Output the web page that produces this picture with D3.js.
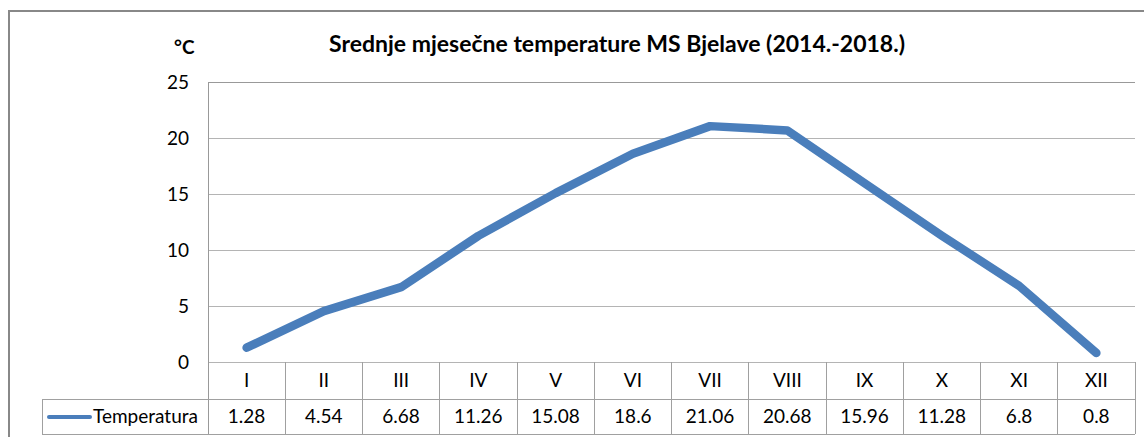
<!DOCTYPE html>
<html>
<head>
<meta charset="utf-8">
<script src="https://cdn.jsdelivr.net/npm/d3@7"></script>
<style>
  body { margin: 0; background: #fff; }
  text { font-family: Lato, "Open Sans", sans-serif; fill: #000; }
</style>
</head>
<body>
<svg id="chart" width="1144" height="437"></svg>
<script>
// chart data
var months = ["I", "II", "III", "IV", "V", "VI", "VII", "VIII", "IX", "X", "XI", "XII"];
var temps = [1.28, 4.54, 6.68, 11.26, 15.08, 18.6, 21.06, 20.68, 15.96, 11.28, 6.8, 0.8];
var yTicks = [0, 5, 10, 15, 20, 25];
var seriesName = "Temperatura";
var title = "Srednje mjesečne temperature MS Bjelave (2014.-2018.)";

var svg = d3.select("#chart");
var plotLeft = 208, plotRight = 1135, plotTop = 82, zeroY = 362;
var row1 = 399, row2 = 434, legendLeft = 42;
var gridColor = "#b4b4b4", tableColor = "#a0a0a0";
var fontSize = 19;

// outer frame of the chart object (runs off the right and bottom edge)
svg.append("path")
    .attr("d", "M9,440 V11 H1150")
    .attr("fill", "none")
    .attr("stroke", "#888")
    .attr("stroke-width", 2);

var x = d3.scaleBand().domain(months).range([plotLeft, plotRight]);
var y = d3.scaleLinear().domain([0, 25]).range([zeroY, plotTop]);

// gridlines
svg.append("g").selectAll("line")
    .data(yTicks)
    .join("line")
    .attr("x1", plotLeft).attr("x2", plotRight)
    .attr("y1", function (d) { return Math.round(y(d)) + 0.5; })
    .attr("y2", function (d) { return Math.round(y(d)) + 0.5; })
    .attr("stroke", function (d) { return d === 25 ? "#999" : gridColor; });

// y tick labels
svg.append("g").selectAll("text")
    .data(yTicks)
    .join("text")
    .attr("x", 189)
    .attr("y", function (d) { return y(d); })
    .attr("dy", "0.35em")
    .attr("text-anchor", "end")
    .attr("font-size", fontSize)
    .text(function (d) { return d; });

svg.append("text")
    .attr("x", 174).attr("y", 54)
    .attr("font-size", fontSize)
    .attr("font-weight", "bold")
    .text("°C");

svg.append("text")
    .attr("x", 617).attr("y", 52)
    .attr("text-anchor", "middle")
    .attr("font-size", 23)
    .attr("font-weight", "bold")
    .text(title);

// data table
var t = svg.append("g").attr("stroke", tableColor).attr("shape-rendering", "crispEdges");
t.append("line").attr("x1", plotLeft).attr("x2", plotLeft).attr("y1", plotTop).attr("y2", row2).attr("stroke", "#999");
t.append("line").attr("x1", legendLeft).attr("x2", plotRight).attr("y1", row1).attr("y2", row1);
t.append("line").attr("x1", legendLeft).attr("x2", plotRight).attr("y1", row2).attr("y2", row2);
t.append("line").attr("x1", legendLeft).attr("x2", legendLeft).attr("y1", row1).attr("y2", row2);
t.selectAll("line.col")
    .data(months)
    .join("line")
    .attr("class", "col")
    .attr("x1", function (d) { return x(d) + x.bandwidth(); })
    .attr("x2", function (d) { return x(d) + x.bandwidth(); })
    .attr("y1", zeroY).attr("y2", row2);

svg.append("g").selectAll("text")
    .data(months)
    .join("text")
    .attr("x", function (d) { return x(d) + x.bandwidth() / 2; })
    .attr("y", (zeroY + row1) / 2)
    .attr("dy", "0.35em")
    .attr("text-anchor", "middle")
    .attr("font-size", fontSize)
    .text(function (d) { return d; });

svg.append("g").selectAll("text")
    .data(temps)
    .join("text")
    .attr("x", function (d, i) { return x(months[i]) + x.bandwidth() / 2; })
    .attr("y", (row1 + row2) / 2)
    .attr("dy", "0.35em")
    .attr("text-anchor", "middle")
    .attr("font-size", fontSize)
    .text(function (d) { return d; });

// legend key in the table
svg.append("line")
    .attr("x1", 49).attr("x2", 90)
    .attr("y1", 417).attr("y2", 417)
    .attr("stroke", "#4a7ebb").attr("stroke-width", 4).attr("stroke-linecap", "round");
svg.append("text")
    .attr("x", 93).attr("y", 416)
    .attr("dy", "0.35em")
    .attr("font-size", fontSize)
    .text(seriesName);

// the series line
var line = d3.line()
    .x(function (d, i) { return x(months[i]) + x.bandwidth() / 2; })
    .y(function (d) { return y(d); });

svg.append("path")
    .datum(temps)
    .attr("d", line)
    .attr("fill", "none")
    .attr("stroke", "#4a7ebb")
    .attr("stroke-width", 8.5)
    .attr("stroke-linecap", "round")
    .attr("stroke-linejoin", "round");
</script>
</body>
</html>
